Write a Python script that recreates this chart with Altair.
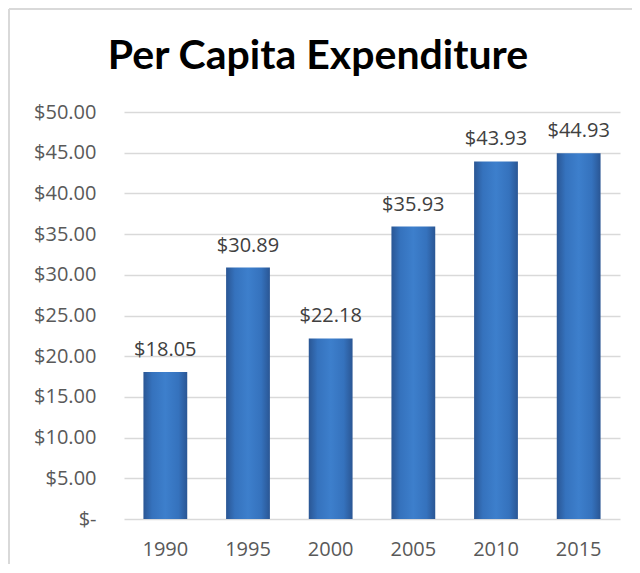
import altair as alt
import pandas as pd

years = ["1990", "1995", "2000", "2005", "2010", "2015"]
values = [18.05, 30.89, 22.18, 35.93, 43.93, 44.93]
labels = ["$18.05", "$30.89", "$22.18", "$35.93", "$43.93", "$44.93"]
y_ticks = [0, 5, 10, 15, 20, 25, 30, 35, 40, 45, 50]

df = pd.DataFrame({"year": years, "value": values, "label": labels})

FONT = "Open Sans"
FS = 20

x = alt.X("year:N", title=None, sort=years,
          scale=alt.Scale(paddingInner=0.47, paddingOuter=0.235),
          axis=alt.Axis(labelAngle=0, labelFontSize=FS, labelColor="#595959",
                        labelFont=FONT, labelPadding=20, ticks=False, domain=False))
y = alt.Y("value:Q", title=None,
          scale=alt.Scale(domain=[0, 50], nice=False),
          axis=alt.Axis(values=y_ticks, labelFontSize=FS, labelColor="#595959",
                        labelFont=FONT, labelPadding=28, ticks=False, domain=False,
                        gridColor="#d9d9d9", gridWidth=1.3,
                        labelExpr="datum.value == 0 ? '$-\u00a0\u00a0' : '$' + format(datum.value, '.2f')"))

grad = alt.Gradient(
    gradient="linear", x1=0, x2=1, y1=0, y2=0,
    stops=[alt.GradientStop(color="#2a5694", offset=0),
           alt.GradientStop(color="#3572bd", offset=0.2),
           alt.GradientStop(color="#3d7fcc", offset=0.5),
           alt.GradientStop(color="#3572bd", offset=0.8),
           alt.GradientStop(color="#2a5694", offset=1)])

bars = alt.Chart(df).mark_bar(color=grad).encode(x=x, y=y)

text = alt.Chart(df).mark_text(baseline="bottom", dy=-12, fontSize=FS,
                               color="#404040", font=FONT).encode(
    x=alt.X("year:N", sort=years), y="value:Q", text="label:N")

frame_df = pd.DataFrame({"k": [0]})
left_border = alt.Chart(frame_df).mark_rule(color="#d9d9d9", strokeWidth=2).encode(
    x=alt.value(-115), y=alt.value(-103), y2=alt.value(460))
top_border = alt.Chart(frame_df).mark_rule(color="#d9d9d9", strokeWidth=2).encode(
    x=alt.value(-115), x2=alt.value(520), y=alt.value(-103))

chart = alt.layer(bars, text, left_border, top_border).properties(
    width=496, height=407,
    autosize=alt.AutoSizeParams(type="none"),
    padding={"left": 116, "top": 104, "right": 12, "bottom": 45},
    title=alt.TitleParams("Per Capita Expenditure", font="Lato", fontSize=41,
                          fontWeight="bold", color="#000000", anchor="middle",
                          dx=-54, offset=-102, baseline="alphabetic"),
).configure_view(stroke=None)

chart.save("out.html", embed_options={"renderer": "svg", "actions": False})
